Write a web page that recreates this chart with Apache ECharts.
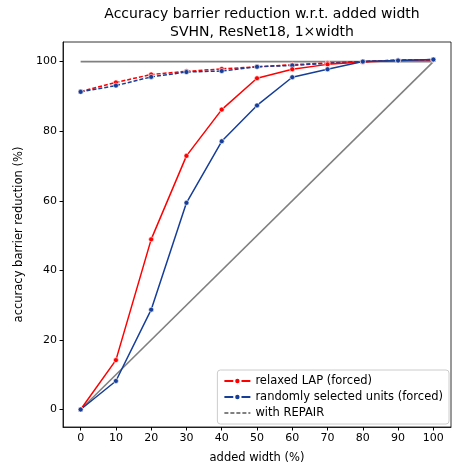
<!DOCTYPE html>
<html>
<head>
<meta charset="utf-8">
<script src="https://cdn.jsdelivr.net/npm/echarts@6/dist/echarts.min.js"></script>
<style>
  html, body { margin: 0; padding: 0; background: #fff; }
  #chart { width: 452px; height: 469px; }
</style>
</head>
<body>
<div id="chart"></div>
<script>
var widths = [0, 10, 20, 30, 40, 50, 60, 70, 80, 90, 100];
var lapForced = [0, 14.2, 48.9, 72.9, 86.2, 95.2, 97.8, 99.2, 99.9, 100.3, 100.5];
var randForced = [0, 8.2, 28.7, 59.4, 77.1, 87.4, 95.5, 97.8, 100.0, 100.3, 100.6];
var lapRepair = [91.4, 94.0, 96.3, 97.2, 97.9, 98.5, 99.1, 99.6, 100.0, 100.4, 100.5];
var randRepair = [91.3, 93.1, 95.6, 97.0, 97.3, 98.5, 98.9, 99.5, 100.0, 100.4, 100.6];
var xTicks = [0, 10, 20, 30, 40, 50, 60, 70, 80, 90, 100];
var yTicks = [0, 20, 40, 60, 80, 100];

var RED = '#ff0000';
var BLUE = '#163e98';
var GRAY = '#808080';
var FONT = 'DejaVu Sans';

function pairs(vals) {
    return widths.map(function (w, i) { return [w, vals[i]]; });
}

function markerLine(name, vals, color, dashed) {
    return {
        name: name,
        type: 'line',
        data: pairs(vals),
        symbol: 'circle',
        symbolSize: 5,
        showSymbol: true,
        lineStyle: { color: color, width: 1.5, type: dashed ? [4, 2] : 'solid' },
        itemStyle: { color: color, borderColor: '#fff', borderWidth: 0.6 },
        emphasis: { disabled: true },
        z: dashed ? 3 : 4
    };
}

var chart = echarts.init(document.getElementById('chart'));
var option = {
    animation: false,
    title: {
        text: 'Accuracy barrier reduction w.r.t. added width\nSVHN, ResNet18, 1×width',
        left: 257, top: 1, textAlign: 'center',
        textStyle: { fontFamily: FONT, fontSize: 14, fontWeight: 'normal', color: '#000', lineHeight: 17.5 }
    },
    grid: {
        left: 63, right: 1, top: 42, bottom: 38,
        show: true, borderColor: '#000', borderWidth: 0.8
    },
    legend: {
        right: 3, bottom: 45,
        orient: 'vertical',
        data: [
            'relaxed LAP (forced)',
            'randomly selected units (forced)',
            { name: 'with REPAIR', itemStyle: { opacity: 0 } }
        ],
        itemWidth: 26, itemHeight: 8, itemGap: 4,
        padding: [5, 6, 5, 6],
        borderColor: '#cccccc', borderWidth: 1, borderRadius: 3,
        backgroundColor: 'rgba(255,255,255,0.8)',
        textStyle: { fontFamily: FONT, fontSize: 11.5, color: '#000' }
    },
    xAxis: {
        type: 'value', min: -5, max: 105,
        name: 'added width (%)', nameLocation: 'middle', nameGap: 25,
        nameTextStyle: { fontFamily: FONT, fontSize: 11.5, color: '#000' },
        splitLine: { show: false },
        axisLine: { onZero: false, lineStyle: { color: '#000', width: 0.8 } },
        axisTick: { customValues: xTicks, length: 3.5, lineStyle: { color: '#000' } },
        axisLabel: { customValues: xTicks, fontFamily: FONT, fontSize: 11, color: '#000', margin: 6 }
    },
    yAxis: {
        type: 'value', min: -5.03, max: 105.63,
        name: 'accuracy barrier reduction (%)', nameLocation: 'middle', nameGap: 34,
        nameTextStyle: { fontFamily: FONT, fontSize: 11.5, color: '#000' },
        splitLine: { show: false },
        axisLine: { show: true, onZero: false, lineStyle: { color: '#000', width: 0.8 } },
        axisTick: { show: true, customValues: yTicks, length: 3.5, lineStyle: { color: '#000' } },
        axisLabel: { customValues: yTicks, fontFamily: FONT, fontSize: 11, color: '#000', margin: 6 }
    },
    series: [
        {
            name: 'ideal', type: 'line', data: [[0, 0], [100, 100]], symbol: 'none',
            lineStyle: { color: GRAY, width: 1.6 }, emphasis: { disabled: true }, z: 1
        },
        {
            name: 'full', type: 'line', data: [[0, 100], [100, 100]], symbol: 'none',
            lineStyle: { color: GRAY, width: 1.6 }, emphasis: { disabled: true }, z: 1
        },
        markerLine('relaxed LAP + REPAIR', lapRepair, RED, true),
        markerLine('randomly selected + REPAIR', randRepair, BLUE, true),
        markerLine('relaxed LAP (forced)', lapForced, RED, false),
        markerLine('randomly selected units (forced)', randForced, BLUE, false),
        {
            name: 'with REPAIR', type: 'line', data: [], symbol: 'none',
            lineStyle: { color: GRAY, width: 1.5, type: [4, 2] }, itemStyle: { color: GRAY }
        }
    ]
};
option && chart.setOption(option);
</script>
</body>
</html>
